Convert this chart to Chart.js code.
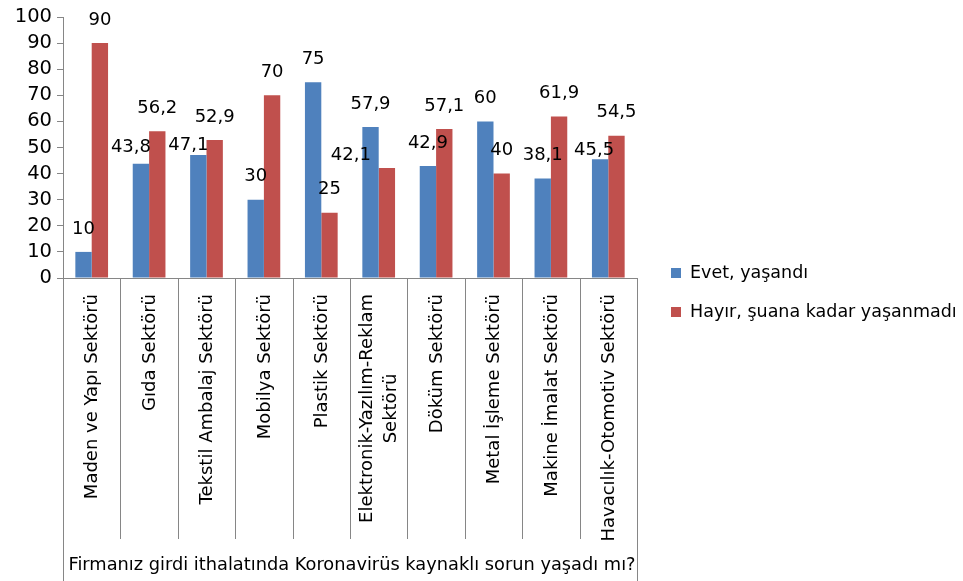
<!DOCTYPE html>
<html>
<head>
<meta charset="utf-8">
<script src="https://cdn.jsdelivr.net/npm/chart.js@4.4.0/dist/chart.umd.min.js"></script>
<style>
  html, body { margin: 0; padding: 0; background: #fff; }
  canvas { display: block; }
</style>
</head>
<body>
<canvas id="myBarChart" width="963" height="581"></canvas>
<script>
const categories = [
    ['Maden ve Yapı Sektörü'],
    ['Gıda Sektörü'],
    ['Tekstil Ambalaj Sektörü'],
    ['Mobilya Sektörü'],
    ['Plastik Sektörü'],
    ['Elektronik-Yazılım-Reklam', 'Sektörü'],
    ['Döküm Sektörü'],
    ['Metal İşleme Sektörü'],
    ['Makine İmalat Sektörü'],
    ['Havacılık-Otomotiv Sektörü']
];
const evetValues = [10, 43.8, 47.1, 30, 75, 57.9, 42.9, 60, 38.1, 45.5];
const hayirValues = [90, 56.2, 52.9, 70, 25, 42.1, 57.1, 40, 61.9, 54.5];
const seriesNames = ['Evet, yaşandı', 'Hayır, şuana kadar yaşanmadı'];
const yTicks = [0, 10, 20, 30, 40, 50, 60, 70, 80, 90, 100];
const axisTitle = 'Firmanız girdi ithalatında Koronavirüs kaynaklı sorun yaşadı mı?';

const colors = ['#4F81BD', '#C0504D'];
const FONT = '"DejaVu Sans", sans-serif';

// label nudges (px) where the original labels were moved off the bar top
const labelShift = [
    [[0, 0], [-10, 7], [-10, 13], [0, 0], [0, 0], [0, 0], [0, 0], [0, 0], [0, 0], [-6, 14]],
    [[0, 0], [0, 0], [0, 0], [0, 0], [0, 0], [-36, 10], [0, 0], [0, 0], [0, 0], [0, 0]]
];

function fmt(v) {
    return String(v).replace('.', ',');
}

const drawExtras = {
    id: 'drawExtras',
    afterDraw(chart) {
        const ctx = chart.ctx;
        const xs = chart.scales.x;
        const area = chart.chartArea;
        const n = categories.length;
        const step = (area.right - area.left) / n;

        ctx.save();

        // value labels
        ctx.font = '18px ' + FONT;
        ctx.fillStyle = '#000';
        ctx.textAlign = 'center';
        ctx.textBaseline = 'middle';
        chart.data.datasets.forEach((ds, d) => {
            const meta = chart.getDatasetMeta(d);
            meta.data.forEach((bar, i) => {
                const s = labelShift[d][i];
                ctx.fillText(fmt(ds.data[i]), bar.x + s[0], bar.y - 23 + s[1]);
            });
        });

        // category separators below the axis
        ctx.strokeStyle = '#868686';
        ctx.lineWidth = 1;
        for (let i = 0; i <= n; i++) {
            const x = Math.round(area.left + i * step) + 0.5;
            const yEnd = (i === 0 || i === n) ? 581 : 539;
            ctx.beginPath();
            ctx.moveTo(x, area.bottom);
            ctx.lineTo(x, yEnd);
            ctx.stroke();
        }

        // rotated category labels
        ctx.font = '18px ' + FONT;
        ctx.textBaseline = 'middle';
        ctx.textAlign = 'right';
        categories.forEach((lines, i) => {
            const cx = xs.getPixelForValue(i);
            const widths = lines.map(t => ctx.measureText(t).width);
            const maxW = Math.max(...widths);
            ctx.save();
            ctx.translate(cx + 1, 294);
            ctx.rotate(-Math.PI / 2);
            lines.forEach((t, k) => {
                const off = (maxW - widths[k]) / 2;
                const ly = (k - (lines.length - 1) / 2) * 24;
                ctx.fillText(t, -off, ly);
            });
            ctx.restore();
        });

        // axis title
        ctx.font = '17.8px ' + FONT;
        ctx.textAlign = 'center';
        ctx.textBaseline = 'middle';
        ctx.fillText(axisTitle, (area.left + area.right) / 2 + 2, 565);

        // legend
        ctx.font = '17.5px ' + FONT;
        ctx.textAlign = 'left';
        seriesNames.forEach((name, k) => {
            const y = 273 + k * 39;
            ctx.fillStyle = colors[k];
            ctx.fillRect(671, y - 5, 10, 10);
            ctx.fillStyle = '#000';
            ctx.fillText(name, 690, y);
        });

        ctx.restore();
    }
};

const ctx = document.getElementById('myBarChart').getContext('2d');

const chart = new Chart(ctx, {
    type: 'bar',
    data: {
        labels: categories,
        datasets: [{
            label: seriesNames[0],
            data: evetValues,
            backgroundColor: colors[0],
            barPercentage: 1,
            categoryPercentage: 0.57
        }, {
            label: seriesNames[1],
            data: hayirValues,
            backgroundColor: colors[1],
            barPercentage: 1,
            categoryPercentage: 0.57
        }]
    },
    options: {
        responsive: false,
        animation: false,
        devicePixelRatio: 1,
        layout: {
            padding: { top: 17, left: 0, right: 326, bottom: 0 }
        },
        plugins: {
            legend: { display: false },
            tooltip: { enabled: false }
        },
        scales: {
            x: {
                ticks: { display: false },
                grid: { display: false },
                border: { color: '#868686' },
                afterFit(scale) { scale.height = 303; }
            },
            y: {
                min: 0,
                max: 100,
                afterBuildTicks(scale) {
                    scale.ticks = yTicks.map(v => ({ value: v }));
                },
                ticks: {
                    color: '#000',
                    font: { family: FONT, size: 19.5 },
                    padding: 5,
                    autoSkip: false
                },
                grid: {
                    drawOnChartArea: false,
                    drawTicks: true,
                    tickLength: 6,
                    color: '#868686'
                },
                border: { color: '#868686' },
                afterFit(scale) { scale.width = 63; }
            }
        }
    },
    plugins: [drawExtras]
});
</script>
</body>
</html>
